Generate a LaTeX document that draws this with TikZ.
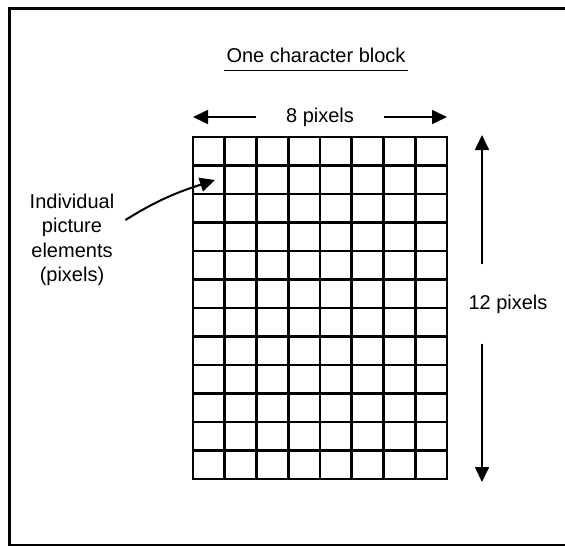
\documentclass[tikz,border=0pt]{standalone}
\usepackage{fontspec}
\setmainfont{Liberation Sans}
\usetikzlibrary{arrows.meta,positioning,calc}
\tikzset{
  lbl/.style={font=\fontsize{20}{24.5}\selectfont, align=center, inner sep=2pt},
  pxarr/.style={-{Triangle[length=15pt,width=14pt]}, line width=1.7pt},
  gridln/.style={line width=2.8pt, line cap=rect},
}

\begin{document}
\begin{tikzpicture}[x=1pt,y=-1pt]
        \useasboundingbox (0,0) rectangle (565,546);
        % outer frame, right side runs off the page
        \draw[line width=3pt] (570,8) -- (9,8) -- (9,545) -- (570,545);
        % the character block: 8 x 12 cells
        \coordinate (gTL) at (193,137);
        \coordinate (gBR) at (447,479);
        \foreach \i in {0,...,8} {
            \draw[gridln] ({193+\i*31.75},137) -- ({193+\i*31.75},479);
        }
        \foreach \j in {0,...,12} {
            \draw[gridln] (193,{137+\j*28.5}) -- (447,{137+\j*28.5});
        }
        % title
        \node[lbl] (ttl) at (316,55) {One character block};
        \draw[line width=1.6pt] ([yshift=-6pt]ttl.south west) -- ([yshift=-6pt]ttl.south east);
        % width
        \node[lbl, inner xsep=30pt] (w8) at (320,117) {8 pixels};
        \draw[pxarr] (w8.west) -- (w8.west -| gTL);
        \draw[pxarr] (w8.east) -- (w8.east -| gBR);
        % height
        \coordinate (hTop) at (482,135);
        \coordinate (hBot) at (482,482);
        \node[lbl, inner ysep=30pt] (h12) at (508,304) {12 pixels};
        \draw[pxarr] (h12.north -| hTop) -- (hTop);
        \draw[pxarr] (h12.south -| hBot) -- (hBot);
        % pointer to one cell
        \node[lbl] (pix) at (72,240) {Individual\\picture\\elements\\(pixels)};
        \coordinate (cell) at (215,180);
        \draw[pxarr, line width=2pt] ([xshift=9pt,yshift=20pt]pix.east) to[out=32,in=198] (cell);
\end{tikzpicture}
\end{document}
